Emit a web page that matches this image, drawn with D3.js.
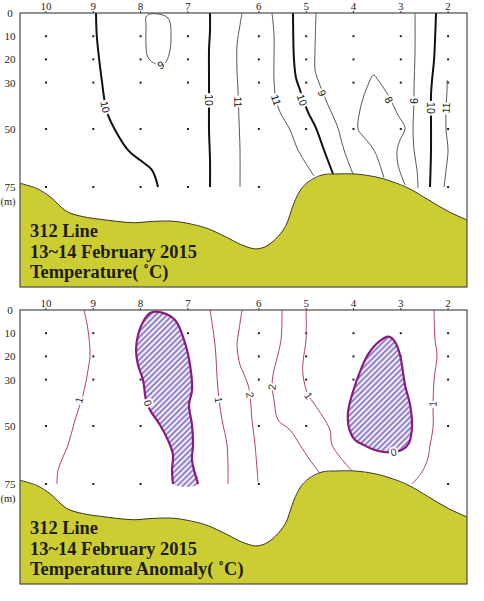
<!DOCTYPE html>
<html>
<head>
<meta charset="utf-8">
<script src="https://cdn.jsdelivr.net/npm/d3@7"></script>
<style>
body { margin: 0; background: #fff; }
svg { display: block; }
</style>
</head>
<body>
<svg id="chart" width="484" height="601"></svg>
<script>
// stations along the 312 line, distance in station spacings
const stations = ["10", "9", "8", "7", "6", "5", "4", "3", "2"];
const stationDist = [0, 1, 2, 3, 4.5, 5.5, 6.5, 7.5, 8.5];
const depthTicks = [0, 10, 20, 30, 50, 75];
const sampleDepths = [10, 20, 30, 50, 75];

// sea floor [distance, depth m]
const seabed = [
    [-0.55, 73.4], [-0.2, 75.6], [0.085, 79.2], [0.44, 85.6], [0.79, 87.8], [1.14, 88.9],
    [1.85, 90.4], [2.2, 89.9], [2.66, 89.7], [2.98, 90.6], [3.4, 92.8], [3.82, 96.7],
    [4.14, 100], [4.43, 101.7], [4.64, 100.7], [4.85, 97.5], [5.06, 92.1], [5.24, 82],
    [5.38, 76.3], [5.55, 72.7], [5.84, 69.8], [6.12, 69.4], [6.54, 69.4], [6.96, 70.6],
    [7.32, 72.7], [7.67, 75.6], [8.09, 80.6], [8.51, 85.6], [8.9, 89.2]
];

// temperature isotherms
const tempContours = [
    { level: 10, label: [1.25, 40.5], pts: [[1.057, 0], [1.072, 9.5], [1.12, 19.4], [1.184, 29.7], [1.226, 36.2], [1.311, 44], [1.734, 59.1], [1.987, 63.4], [2.241, 67.7], [2.368, 75]] },
    { level: 9, label: [2.43, 22.4], closed: true, pts: [[2.431, 22.4], [2.537, 21.1], [2.622, 15.9], [2.643, 9.5], [2.622, 3.9], [2.579, 2.2], [2.474, 0.9], [2.199, 0.4], [2.114, 1.7], [2.114, 5.2], [2.114, 13.8], [2.135, 18.1], [2.199, 20.3], [2.326, 22]] },
    { level: 10, label: [3.446, 37.5], pts: [[3.467, 0], [3.467, 7.3], [3.446, 15.9], [3.446, 28.9], [3.446, 37.5], [3.446, 50.4], [3.467, 63.4], [3.467, 75]] },
    { level: 11, label: [4.06, 38.4], pts: [[4.144, 0], [4.101, 5.2], [4.038, 13.8], [4.038, 24.6], [4.059, 33.2], [4.08, 46.1], [4.101, 59.1], [4.101, 75]] },
    { level: 11, label: [4.863, 37.5], pts: [[4.778, 0], [4.82, 9.5], [4.82, 28.9], [4.863, 37.5], [4.947, 42.7], [5.159, 50.4], [5.328, 59.1], [5.666, 70.3]] },
    { level: 10, label: [5.41, 37.5], pts: [[5.222, 0], [5.243, 20.3], [5.285, 28], [5.37, 33.2], [5.539, 42.7], [5.708, 49.6], [5.877, 59.1], [6.068, 69.4]] },
    { level: 9, label: [5.835, 34.5], pts: [[5.708, 0], [5.687, 15.9], [5.687, 24.6], [5.751, 28.9], [5.962, 39.7], [6.152, 48.3], [6.3, 59.1], [6.49, 69.4]] },
    { level: 8, label: [7.25, 37.5], pts: [[7.146, 71.1], [6.934, 59.1], [6.681, 52.6], [6.596, 50], [6.638, 41.8], [6.765, 33.2], [6.928, 26.7], [7.019, 28.9], [7.23, 35.3], [7.442, 44], [7.59, 49.6], [7.484, 54.7], [7.421, 59.1], [7.442, 65.5], [7.59, 74.1]] },
    { level: 9, label: [7.78, 37.9], pts: [[7.801, 0], [7.801, 15.9], [7.78, 33.2], [7.78, 37.9], [7.759, 50.4], [7.78, 59.1], [7.843, 67.7], [7.864, 75.5]] },
    { level: 10, label: [8.139, 40.9], pts: [[8.245, 0], [8.224, 11.6], [8.203, 20.3], [8.161, 28.9], [8.139, 35.3], [8.139, 46.1], [8.139, 59.1], [8.118, 75]] },
    { level: 11, label: [8.457, 40.9], pts: [[8.478, 28.9], [8.478, 33.2], [8.457, 40.9], [8.457, 50.4], [8.499, 59.1], [8.457, 67.7], [8.414, 75]] }
];

// temperature anomaly isolines
const anomContours = [
    { level: 1, label: [0.7, 38.8], pts: [[0.803, 0], [0.888, 8.6], [0.93, 19.4], [0.888, 25.9], [0.782, 36.6], [0.613, 47.4], [0.465, 58.2], [0.254, 69], [0.233, 75]] },
    { level: 1, label: [3.65, 38.8], pts: [[3.467, 0], [3.573, 15.1], [3.636, 34.5], [3.721, 47.4], [3.827, 58.2], [3.848, 75]] },
    { level: 2, label: [4.313, 36.6], pts: [[4.144, 0], [4.08, 8.6], [4.038, 15.1], [4.101, 23.7], [4.165, 26.7], [4.27, 32.3], [4.313, 36.6], [4.355, 47.4], [4.419, 58.2], [4.482, 74.1]] },
    { level: 2, label: [4.778, 33.2], pts: [[4.989, 0], [4.968, 12.9], [4.863, 22.4], [4.799, 28], [4.778, 33.2], [4.82, 38.8], [4.905, 47.4], [5.159, 51.7], [5.37, 58.2], [5.581, 64.7], [5.793, 70.5]] },
    { level: 1, label: [5.55, 37], pts: [[5.497, 0], [5.497, 12.9], [5.433, 22.4], [5.433, 28], [5.539, 36.6], [5.687, 40.9], [6.004, 51.7], [6.047, 58.2], [6.469, 69.4]] },
    { level: 1, label: [8.182, 40.5], pts: [[8.203, 0], [8.224, 12.9], [8.266, 19.4], [8.203, 30.2], [8.182, 40.9], [8.182, 50.9], [8.118, 58.2], [8.076, 63.8], [7.949, 69.8], [7.738, 75]] }
];

// negative anomaly (0 isoline) areas
const coldPools = [
    { level: 0, label: [2.15, 40.1], open: true, pts: [[2.685, 75], [2.664, 69], [2.685, 62.5], [2.622, 58.2], [2.41, 49.6], [2.199, 43.1], [2.114, 38.8], [2.051, 30.2], [1.945, 23.7], [1.903, 17.2], [1.945, 10.8], [2.051, 5.2], [2.199, 1.3], [2.41, 0.9], [2.727, 4.3], [2.918, 12.9], [3.044, 23.7], [3.087, 34.5], [3.023, 40.9], [3.087, 49.6], [3.108, 58.2], [3.087, 64.7], [3.214, 75]] },
    { level: 0, label: [7.35, 61.3], open: false, pts: [[7.245, 11.5], [7.378, 13.7], [7.484, 19.4], [7.59, 32.3], [7.696, 40.9], [7.738, 49.6], [7.674, 57.3], [7.526, 60.3], [7.351, 61.3], [7.104, 61.1], [6.892, 59.9], [6.717, 58.2], [6.533, 56], [6.406, 50.9], [6.385, 44], [6.469, 36.6], [6.681, 24.4], [6.822, 18.7], [7.034, 13.7]] }
];

const svg = d3.select("#chart");
const frameL = 20, frameR = 467, panelH = 274;

const x = d3.scaleLinear().domain([-0.55, 8.9]).range([frameL, frameR]);

// hatch for the cold areas
const defs = svg.append("defs");
const hatch = defs.append("pattern")
    .attr("id", "hatch")
    .attr("patternUnits", "userSpaceOnUse")
    .attr("width", 4).attr("height", 4)
    .attr("patternTransform", "rotate(45)");
hatch.append("rect").attr("width", 4).attr("height", 4).attr("fill", "#f1ecf8");
hatch.append("rect").attr("x", 0).attr("width", 1.6).attr("height", 4).attr("fill", "#7d6cc4");

const labelAngle = (pts, lp) => {
    let best = 0, bd = Infinity;
    for (let i = 0; i < pts.length - 1; i++) {
        const mx = (pts[i][0] + pts[i + 1][0]) / 2;
        const my = (pts[i][1] + pts[i + 1][1]) / 2;
        const d = (mx - lp[0]) ** 2 + (my - lp[1]) ** 2;
        if (d < bd) { bd = d; best = i; }
    }
    let a = Math.atan2(pts[best + 1][1] - pts[best][1], pts[best + 1][0] - pts[best][0]) * 180 / Math.PI;
    if (a > 90) a -= 180;
    if (a < -90) a += 180;
    return a;
};

const drawPanel = (top, titleLines, contours, pools, opts) => {
    const y = d3.scaleLinear().domain([0, 75]).range([top, top + 174]);
    const bottom = top + panelH;
    const maxDepth = y.invert(bottom);
    const g = svg.append("g");
    const clipId = "clip" + top;

    defs.append("clipPath").attr("id", clipId)
        .append("rect")
        .attr("x", frameL).attr("y", top)
        .attr("width", frameR - frameL).attr("height", panelH);

    const plot = g.append("g").attr("clip-path", `url(#${clipId})`);

    // sample points
    stationDist.forEach(d => {
        sampleDepths.forEach(z => {
            plot.append("rect")
                .attr("x", x(d) - 1).attr("y", y(z) - 1)
                .attr("width", 2).attr("height", 2)
                .attr("fill", "#222");
        });
    });

    const line = d3.line().x(d => x(d[0])).y(d => y(d[1])).curve(d3.curveCatmullRom.alpha(0.5));
    const closedLine = d3.line().x(d => x(d[0])).y(d => y(d[1])).curve(d3.curveCatmullRomClosed.alpha(0.5));

    // cold pools
    pools.forEach(p => {
        plot.append("path")
            .attr("d", closedLine(p.pts))
            .attr("fill", "url(#hatch)");
        plot.append("path")
            .attr("d", p.open ? line(p.pts) : closedLine(p.pts))
            .attr("fill", "none")
            .attr("stroke", "#8a1a7e")
            .attr("stroke-width", 2.2);
    });

    // isolines
    contours.forEach(c => {
        plot.append("path")
            .attr("d", c.closed ? closedLine(c.pts) : line(c.pts))
            .attr("fill", "none")
            .attr("stroke", opts.color(c.level))
            .attr("stroke-width", opts.width(c.level));
    });

    // labels on lines
    [...contours, ...pools].forEach(c => {
        const px = c.pts.map(p => [x(p[0]), y(p[1])]);
        const lp = [x(c.label[0]), y(c.label[1])];
        const a = labelAngle(px, lp);
        plot.append("text")
            .attr("transform", `translate(${lp[0]},${lp[1]}) rotate(${a})`)
            .attr("text-anchor", "middle")
            .attr("dy", "0.35em")
            .attr("font-family", "Liberation Sans, Arial, sans-serif")
            .attr("font-size", 10.5)
            .attr("fill", opts.labelColor)
            .attr("stroke", "#fff")
            .attr("stroke-width", 4)
            .attr("paint-order", "stroke")
            .text(c.level);
    });

    // sea floor
    const floor = [[seabed[0][0], maxDepth], ...seabed, [seabed[seabed.length - 1][0], maxDepth]];
    plot.append("path")
        .attr("d", d3.line().x(d => x(d[0])).y(d => y(d[1])).curve(d3.curveLinear)(floor) + "Z")
        .attr("fill", "#cccc33");
    plot.append("path")
        .attr("d", d3.line().x(d => x(d[0])).y(d => y(d[1])).curve(d3.curveCatmullRom)(seabed))
        .attr("fill", "none")
        .attr("stroke", "#3a3a20")
        .attr("stroke-width", 1);

    // frame
    g.append("rect")
        .attr("x", frameL).attr("y", top)
        .attr("width", frameR - frameL).attr("height", panelH)
        .attr("fill", "none")
        .attr("stroke", "#4a4a4a")
        .attr("stroke-width", 1.2);

    // station ticks and names
    stationDist.forEach((d, i) => {
        g.append("line")
            .attr("x1", x(d)).attr("x2", x(d))
            .attr("y1", top - 2).attr("y2", top)
            .attr("stroke", "#333");
        g.append("text")
            .attr("x", x(d)).attr("y", top - 3.5)
            .attr("text-anchor", "middle")
            .attr("font-family", "Liberation Serif, Times New Roman, serif")
            .attr("font-size", 11)
            .attr("fill", "#222")
            .text(stations[i]);
    });

    // depth labels
    depthTicks.forEach(z => {
        g.append("text")
            .attr("x", 10).attr("y", y(z) + 4)
            .attr("text-anchor", "middle")
            .attr("font-family", "Liberation Serif, Times New Roman, serif")
            .attr("font-size", 11)
            .attr("fill", "#222")
            .text(z);
    });
    g.append("text")
        .attr("x", 8).attr("y", y(75) + 18)
        .attr("text-anchor", "middle")
        .attr("font-family", "Liberation Serif, Times New Roman, serif")
        .attr("font-size", 10.5)
        .attr("fill", "#222")
        .text("(m)");

    // title block
    titleLines.forEach((t, i) => {
        g.append("text")
            .attr("x", 30).attr("y", top + 224 + i * 20.5)
            .attr("font-family", "Liberation Serif, Times New Roman, serif")
            .attr("font-weight", "bold")
            .attr("font-size", 18.4)
            .attr("fill", "#1c1c10")
            .text(t);
    });
};

drawPanel(13, ["312 Line", "13~14 February 2015", "Temperature( \u02daC)"], tempContours, [], {
    color: lv => lv === 10 ? "#111" : "#444",
    width: lv => lv === 10 ? 2 : 0.9,
    labelColor: "#111"
});

drawPanel(310, ["312 Line", "13~14 February 2015", "Temperature Anomaly( \u02daC)"], anomContours, coldPools, {
    color: () => "#b0406e",
    width: () => 1,
    labelColor: "#333"
});
</script>
</body>
</html>
